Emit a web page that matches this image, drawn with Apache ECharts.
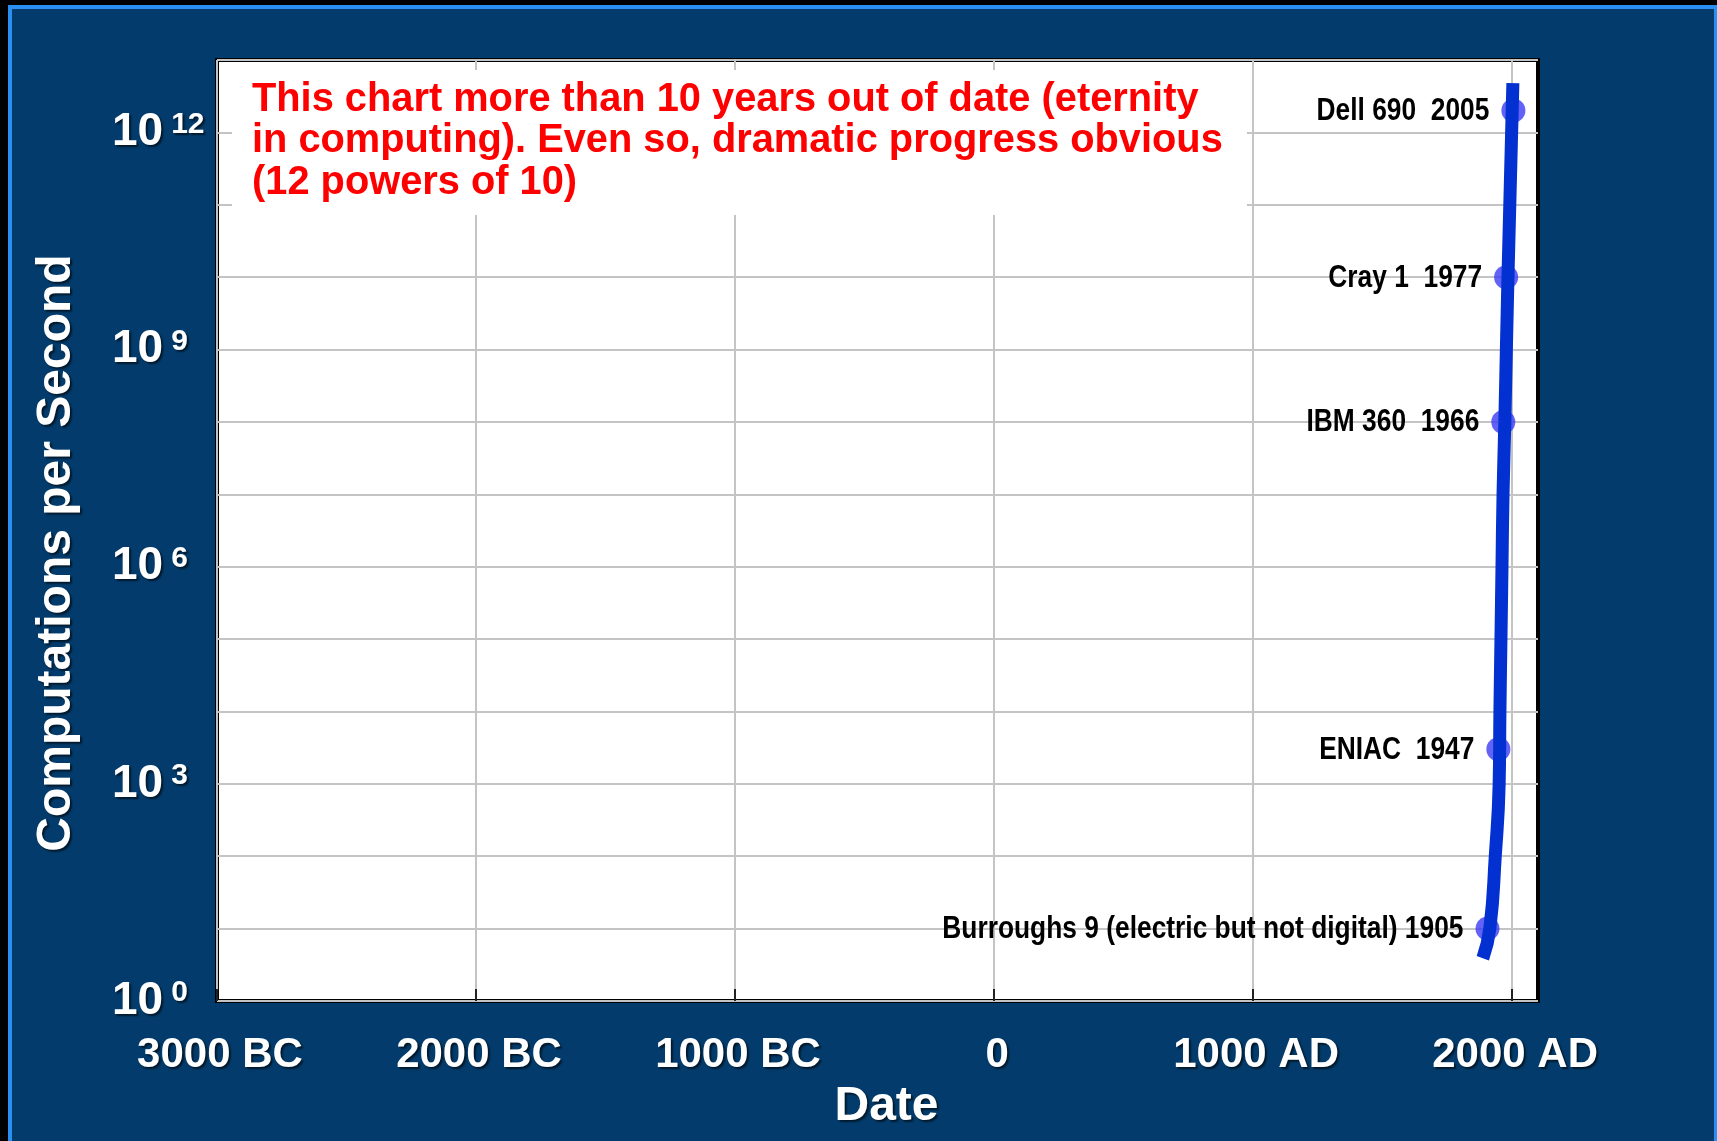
<!DOCTYPE html>
<html>
<head>
<meta charset="utf-8">
<script src="https://cdn.jsdelivr.net/npm/echarts@6/dist/echarts.min.js"></script>
<style>
  html, body { margin: 0; padding: 0; background: #000; }
  #bg {
    position: absolute; left: 8px; top: 5px; width: 1709px; height: 1136px;
    box-sizing: border-box; background: #033c6c;
    border-left: 4px solid #2b8ff2; border-top: 4px solid #2b8ff2; border-right: 3px solid #2b8ff2;
  }
  #chart { position: absolute; left: 0; top: 0; width: 1717px; height: 1141px; }
</style>
</head>
<body>
<div id="bg"></div>
<div id="chart"></div>
<script>
// x axis: years, negative = BC
var xTickYears = [-3000, -2000, -1000, 0, 1000, 2000];
var xTickLabels = ['3000 BC', '2000 BC', '1000 BC', '0', '1000 AD', '2000 AD'];
// y axis: powers of ten that get a label
var yLabelPowers = [0, 3, 6, 9, 12];

// machines (dots)
var machineLabels = [
  'Burroughs 9 (electric but not digital) 1905',
  'ENIAC  1947',
  'IBM 360  1966',
  'Cray 1  1977',
  'Dell 690  2005'
];
var machineYears = [1905, 1947, 1966, 1977, 2005];
var machineSpeeds = [10, 3000, 1e8, 1e10, 2e12];

// trend curve
var trendYears = [1887, 1914, 1935, 1950, 1953, 1957, 1961, 1965, 1972, 1984, 2003];
var trendSpeeds = [3.9, 10, 100, 1e3, 1e4, 1e5, 1e6, 1e7, 1e8, 1e10, 4.8e12];

var note = 'This chart more than 10 years out of date (eternity\n' +
  'in computing). Even so, dramatic progress obvious\n' +
  '(12 powers of 10)';

var SANS = "'Liberation Sans', Arial, sans-serif";
var shadow = {
  textShadowColor: 'rgba(0,0,0,0.6)',
  textShadowBlur: 2,
  textShadowOffsetX: 2,
  textShadowOffsetY: 2
};
function white(size, extra) {
  return Object.assign({
    color: '#fff', fontFamily: SANS, fontWeight: 'bold', fontSize: size
  }, shadow, extra || {});
}

var machineData = machineYears.map(function(y, i) {
  return [y, Math.log10(machineSpeeds[i])];
});

var chart = echarts.init(document.getElementById('chart'), null, {renderer: 'canvas'});

var option = {
  backgroundColor: 'transparent',
  animation: false,
  grid: {
    left: 217, top: 60, width: 1321, height: 941,
    show: true, backgroundColor: '#fff', borderColor: '#000', borderWidth: 4,
    outerBoundsMode: 'none'
  },
  xAxis: {
    type: 'value', min: -3000, max: 2100, interval: 1000,
    name: 'Date', nameLocation: 'middle', nameGap: 82,
    nameTextStyle: white(48, {padding: [0, 0, 0, 18]}),
    axisLine: {show: false},
    axisTick: {
      show: true, inside: true, length: 12, customValues: xTickYears,
      lineStyle: {color: '#222', width: 2}
    },
    axisLabel: Object.assign(white(42), {
      margin: 33, customValues: xTickYears, padding: [0, 0, 0, 6],
      formatter: function(v) {
        var i = xTickYears.indexOf(v);
        return i < 0 ? '' : xTickLabels[i];
      }
    }),
    splitLine: {show: true, lineStyle: {color: '#c4c4c4', width: 2}}
  },
  yAxis: {
    // log10 of computations per second
    type: 'value', min: 0, max: 13, interval: 1,
    axisLine: {show: false},
    axisTick: {show: false},
    axisLabel: {
      align: 'left', margin: 105,
      formatter: function(v) {
        return yLabelPowers.indexOf(v) < 0 ? '' : '{b|10}{s|' + v + '}';
      },
      rich: {
        b: white(46),
        s: white(30, {verticalAlign: 'top', padding: [0, 0, 0, 8]})
      }
    },
    splitLine: {show: true, lineStyle: {color: '#c4c4c4', width: 2}}
  },
  graphic: [
    {
      type: 'rect', z: 5,
      shape: {x: 232, y: 70, width: 1015, height: 145},
      style: {fill: '#fff'}
    },
    {
      type: 'text', z: 6, x: 252, y: 79,
      style: {
        text: note, fill: '#ff0000', fontFamily: SANS, fontWeight: 'bold',
        fontSize: 39.8, lineHeight: 41.5, align: 'left', verticalAlign: 'top'
      }
    },
    {
      type: 'text', z: 6, x: 57, y: 553, rotation: Math.PI / 2,
      style: Object.assign({
        text: 'Computations per Second', fill: '#fff', fontFamily: SANS,
        fontWeight: 'bold', fontSize: 48, align: 'center', verticalAlign: 'middle'
      }, shadow)
    }
  ],
  series: [
    {
      type: 'scatter', z: 2,
      symbol: 'circle', symbolSize: 24,
      itemStyle: {color: '#3b3bf5'},
      data: machineData
    },
    {
      type: 'line', z: 3,
      smooth: 0.5,
      showSymbol: false, symbol: 'none',
      lineStyle: {color: '#0330d0', width: 13, cap: 'butt'},
      data: trendYears.map(function(y, i) {
        return [y, Math.log10(trendSpeeds[i])];
      })
    },
    {
      // machine names, set in a condensed bold face left of each dot
      type: 'custom', z: 4,
      renderItem: function(params, api) {
        var pt = api.coord([api.value(0), api.value(1)]);
        return {
          type: 'text', x: pt[0] - 24, y: pt[1] + 1, scaleX: 0.85,
          style: {
            text: machineLabels[params.dataIndex], fill: '#000',
            fontFamily: SANS, fontWeight: 'bold', fontSize: 31,
            align: 'right', verticalAlign: 'middle'
          }
        };
      },
      data: machineData
    }
  ]
};

chart.setOption(option);
</script>
</body>
</html>
